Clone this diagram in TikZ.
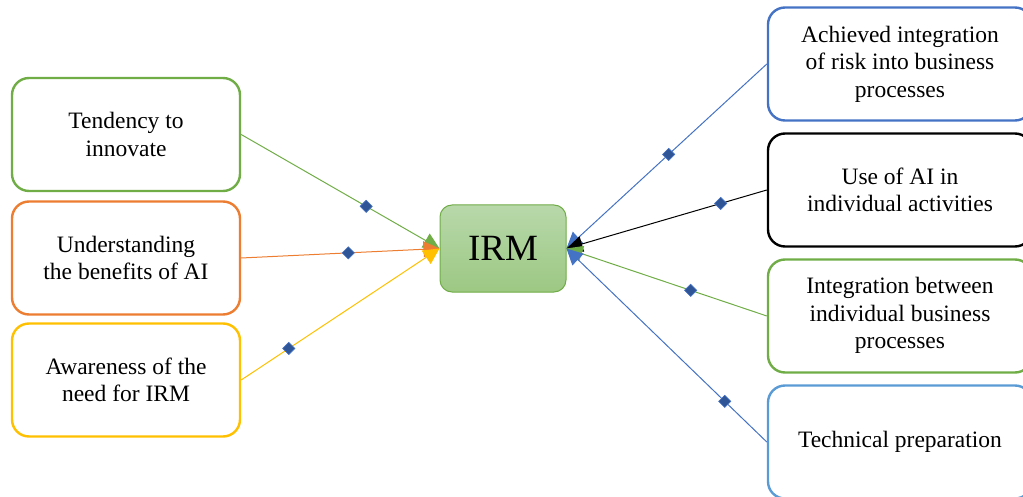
\documentclass[tikz,border=0pt]{standalone}
\usepackage{fontspec}
\setmainfont{Liberation Serif}
\usetikzlibrary{arrows.meta,shapes.geometric}
\definecolor{cgreen}{HTML}{70AD47}
\definecolor{corange}{HTML}{ED7D31}
\definecolor{cyellow}{HTML}{FFC000}
\definecolor{cblue}{HTML}{4472C4}
\definecolor{clblue}{HTML}{5B9BD5}
\definecolor{dmd}{HTML}{2F5597}
\definecolor{irmtop}{HTML}{B8D8AA}
\definecolor{irmbot}{HTML}{9CC883}
\tikzset{
  card/.style={draw=#1, line width=2.4pt, rounded corners=17pt, fill=white,
    minimum width=228pt, minimum height=113pt, align=center,
    font=\fontsize{23.5}{27.5}\selectfont, inner sep=0pt},
  rcard/.style={card=#1, minimum width=264pt},
  link/.style={draw=#1, line width=1pt, -{Triangle[length=16pt,width=16pt]}},
  mk/.style={diamond, fill=dmd, draw=cblue, line width=0.6pt, minimum size=12.5pt, inner sep=0pt}
}
\begin{document}
\begin{tikzpicture}[x=1pt,y=-1pt]
\useasboundingbox (0,0) rectangle (1023,497);
% left
\node[card=cgreen] (ten) at (126,134.5) {Tendency to\\innovate};
\node[card=corange] (und) at (126,258) {Understanding\\the benefits of AI};
\node[card=cyellow] (awa) at (126,380) {Awareness of the\\need for IRM};
% centre
\node[draw=cgreen, line width=1pt, rounded corners=12pt, top color=irmtop, bottom color=irmbot,
  minimum width=126pt, minimum height=87pt, font=\fontsize{37}{40}\selectfont, inner sep=0pt] (irm) at (503,248.5) {IRM};
% right
\node[rcard=cblue] (ach) at (900,64) {Achieved integration\\of risk into business\\processes};
\node[rcard=black] (use) at (900,190) {Use of AI in\\individual activities};
\node[rcard=cgreen] (int) at (900,316) {\raisebox{-6pt}[0pt][0pt]{\parbox{240pt}{\centering Integration between\\individual business\\processes}}};
\node[rcard=clblue] (tec) at (900,442) {Technical preparation};
% connectors
\draw[link=cgreen] (ten.east) -- node[mk, pos=0.63] (m1) {} (irm.west);
\draw[link=corange] (und.east) -- node[mk, pos=0.54] (m2) {} (irm.west);
\draw[link=cyellow] (awa.east) -- node[mk, pos=0.24] (m3) {} (irm.west);
\draw[link=cblue] (ach.west) -- node[mk, pos=0.49] (m4) {} (irm.east);
\draw[link=black] (use.west) -- node[mk, pos=0.23] (m5) {} (irm.east);
\draw[link=cgreen] (int.west) -- node[mk, pos=0.38] (m6) {} (irm.east);
\draw[link=cblue] (tec.west) -- node[mk, pos=0.21] (m7) {} (irm.east);
\end{tikzpicture}
\end{document}
